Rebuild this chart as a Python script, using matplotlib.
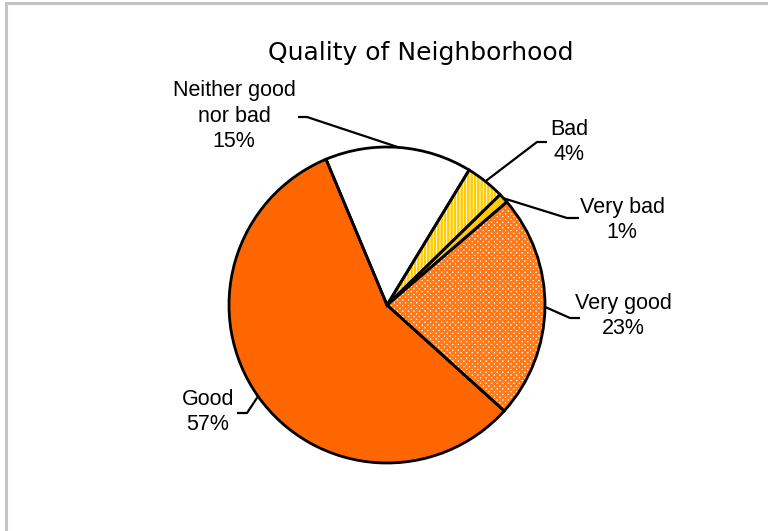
import numpy as np
import matplotlib.pyplot as plt
from matplotlib.patches import Rectangle

# Survey responses, in the order the slices are drawn (clockwise)
categories = ["Very good", "Good", "Neither good\nnor bad", "Bad", "Very bad"]
shares = [23, 57, 15, 4, 1]

face_colors = ["white", "#FF6600", "white", "white", "#FFCC00"]
hatch_colors = ["#FF7A1A", "#FF6600", "white", "#FFCC00", "#FFCC00"]
hatches = ["xxxxxx", None, None, "|||||", None]

title = "Quality of Neighborhood"

W, H = 768, 531
CX, CY, R = 387, H - 305, 158
START = 40.7

plt.rcParams["font.family"] = ["Liberation Sans", "DejaVu Sans"]
plt.rcParams["hatch.linewidth"] = 1.8

fig = plt.figure(figsize=(W / 100, H / 100), dpi=100)
ax = fig.add_axes([0, 0, 1, 1])

# fill + hatch pass
wedges, _ = ax.pie(shares, startangle=START, counterclock=False,
                   center=(CX, CY), radius=R, colors=face_colors,
                   wedgeprops=dict(linewidth=0))
for w, hc, h in zip(wedges, hatch_colors, hatches):
    if h:
        w.set_hatch(h)
        w.set_edgecolor(hc)

# outline pass
ax.pie(shares, startangle=START, counterclock=False, center=(CX, CY),
       radius=R, colors=["none"] * len(shares),
       wedgeprops=dict(linewidth=2, edgecolor="black"))

# pie() resets the limits, so fix them afterwards
ax.set_xlim(0, W)
ax.set_ylim(0, H)
ax.set_aspect("equal")
ax.axis("off")

# frame of the chart area (only top and left edges show)
ax.add_patch(Rectangle((6, -20), W + 40, H - 3 + 20, fill=False,
                       edgecolor="#c4c4c4", linewidth=2.2))

# label text and leader elbows
labels = [f"{c}\n{s}%" for c, s in zip(categories, shares)]
label_xy = [(623, 316), (208, 412), (234, 116), (569, 142), (622, 220)]
elbows = [[(580, 318), (570, 318)],
          [(237, 413), (247, 413)],
          [(298, 117), (307, 117)],
          [(547, 142), (537, 142)],
          [(579, 218), (567, 218)]]

for w, lab, (lx, ly), elb in zip(wedges, labels, label_xy, elbows):
    mid = np.deg2rad((w.theta1 + w.theta2) / 2)
    ex, ey = CX + R * np.cos(mid), CY + R * np.sin(mid)
    pts = [(x, H - y) for x, y in elb] + [(ex, ey)]
    xs, ys = zip(*pts)
    ax.plot(xs, ys, color="black", linewidth=1.6, solid_capstyle="butt")
    ax.text(lx, H - ly, lab, ha="center", va="center", fontsize=15.5,
            linespacing=1.3)

ax.text(421, H - 60, title, ha="center", va="baseline", fontsize=18,
        family="DejaVu Sans")

fig.savefig("out.png", dpi=100)
